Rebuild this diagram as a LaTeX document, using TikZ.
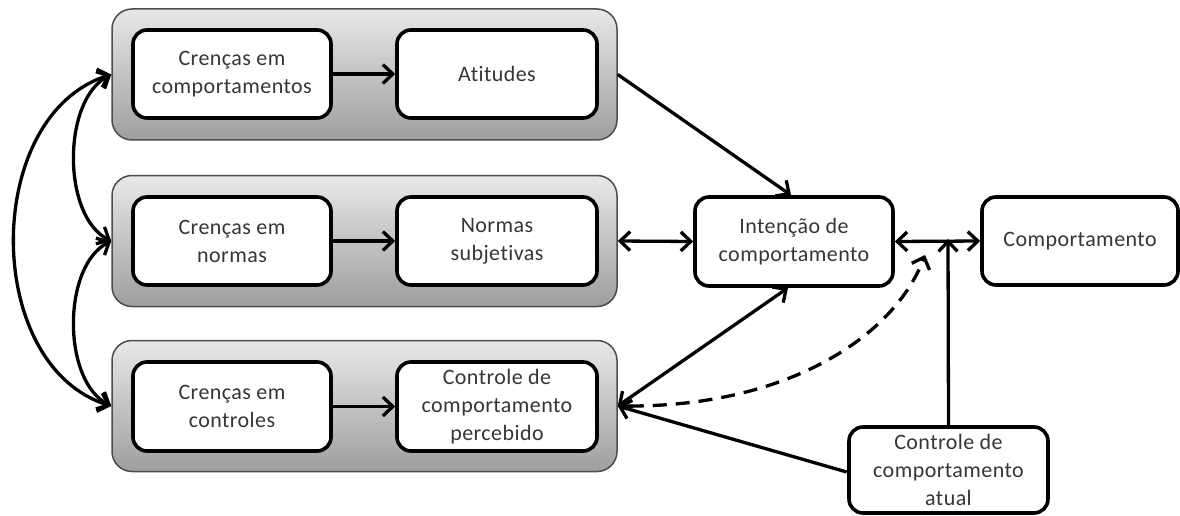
\documentclass[tikz,border=0pt]{standalone}
\usepackage{fontspec}
\setmainfont{Carlito}[Ligatures={NoCommon},LetterSpace=2]
\usetikzlibrary{arrows.meta,shadows}
\definecolor{txt}{HTML}{363636}
\begin{document}
\begin{tikzpicture}[x=1pt,y=-1pt,
  group/.style={draw=black!70,line width=1.5pt,rounded corners=20pt,top color=black!9,bottom color=black!38,
    minimum width=505pt,minimum height=131pt,inner sep=0pt},
  wbox/.style={draw=black,line width=3.6pt,fill=white,rounded corners=14pt,minimum width=198pt,minimum height=88pt,
    inner sep=0pt,align=center,text=txt,font=\fontsize{22}{28}\selectfont},
  tip/.tip={Straight Barb[length=10pt,width=19pt,line width=3.3pt]},
  conn/.style={line width=3.3pt,-tip},
  dconn/.style={line width=3.3pt,tip-tip}
]
\useasboundingbox (0,0) rectangle (1180,516);
% groups
\node[group] (G1) at (364.5,74.5) {};
\node[group] (G2) at (364.5,241) {};
\node[group] (G3) at (364.5,406) {};
% inner boxes
\node[wbox] (A1) at (232,74) {Crenças em\\comportamentos};
\node[wbox,minimum width=200pt] (A2) at (497,74) {Atitudes};
\node[wbox] (B1) at (232,241) {Crenças em\\normas};
\node[wbox,minimum width=200pt] (B2) at (497,241) {Normas\\subjetivas};
\node[wbox,minimum height=89pt] (C1) at (232,406.5) {Crenças em\\controles};
\node[wbox,minimum width=200pt,minimum height=89pt] (C2) at (497,406.5) {Controle de\\comportamento\\percebido};
\node[wbox,minimum height=89pt] (I) at (794,241.5) {Intenção de\\comportamento};
\node[wbox,minimum width=196pt] (K) at (1080,241) {Comportamento};
\node[wbox,minimum width=199pt,minimum height=86pt] (CA) at (948.5,470) {Controle de\\comportamento\\atual};
% inner arrows
\draw[conn] (A1.east) -- (A2.west);
\draw[conn] (B1.east) -- (B2.west);
\draw[conn] (C1.east) -- (C2.west);
% left curves
\draw[dconn] (G1.west) .. controls (62,100) and (62,216) .. (G2.west);
\draw[dconn] (G2.west) .. controls (62,266) and (62,381) .. (G3.west);
\draw[dconn] (G1.west) .. controls (-18,115) and (-18,366) .. (G3.west);
% right side
\coordinate (j) at (948,241);
\coordinate (d) at (925,255);
\draw[conn] (G1.east) -- ([xshift=-3pt]I.north);
\draw[dconn] (G2.east) -- (I.west);
\draw[dconn] (G3.east) -- ([xshift=-6pt]I.south);
\draw[dconn] (I.east) -- (K.west);
\draw[conn] (CA.north) -- ([yshift=2pt]j);
\draw[conn] ([xshift=-0.5pt]CA.west |- 0,472) -- (G3.east);
\draw[conn,dash pattern=on 14pt off 9pt] ([xshift=12pt]G3.east) .. controls (790,406) and (895,335) .. (d);
\end{tikzpicture}
\end{document}
